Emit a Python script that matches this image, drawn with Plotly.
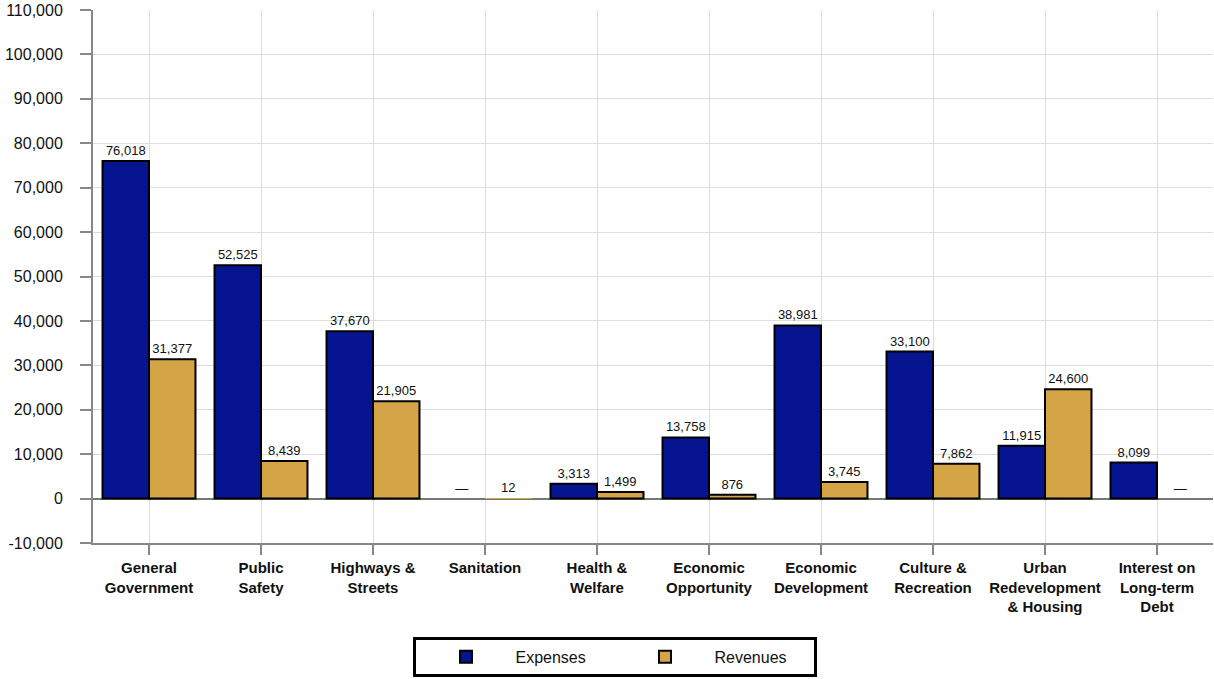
import plotly.graph_objects as go

categories = ["General<br>Government", "Public<br>Safety", "Highways &<br>Streets", "Sanitation",
              "Health &<br>Welfare", "Economic<br>Opportunity", "Economic<br>Development",
              "Culture &<br>Recreation", "Urban<br>Redevelopment<br>& Housing",
              "Interest on<br>Long-term<br>Debt"]
expenses = [76018, 52525, 37670, 0, 3313, 13758, 38981, 33100, 11915, 8099]
revenues = [31377, 8439, 21905, 12, 1499, 876, 3745, 7862, 24600, 0]

tick_vals = list(range(-10000, 110001, 10000))
tick_text = [f"{v:,}" for v in tick_vals]


def labels(vals):
    return ["\u2014" if v == 0 else f"{v:,}" for v in vals]


def outline(vals):
    # bars too small to be seen get no outline
    return [0 if v < 100 else 2 for v in vals]


font_family = "Liberation Sans, Arial, sans-serif"

fig = go.Figure()
fig.add_trace(go.Bar(
    name="Expenses", x=categories, y=expenses, text=labels(expenses),
    textposition="outside", textfont=dict(size=13, color="#111"),
    marker=dict(color="#06148F", line=dict(color="#000", width=outline(expenses))),
    cliponaxis=False,
))
fig.add_trace(go.Bar(
    name="Revenues", x=categories, y=revenues, text=labels(revenues),
    textposition="outside", textfont=dict(size=13, color="#111"),
    marker=dict(color="#D4A446", line=dict(color="#000", width=outline(revenues))),
    cliponaxis=False,
))

fig.update_layout(
    width=1214, height=679,
    margin=dict(l=93, r=1, t=10, b=136),
    paper_bgcolor="white", plot_bgcolor="white",
    font=dict(family=font_family, color="#111"),
    barmode="group", bargap=0.17, bargroupgap=0,
    showlegend=True,
    legend=dict(
        orientation="h", xref="container", yref="container",
        x=0.507, xanchor="center", y=0.003, yanchor="bottom",
        bordercolor="#000", borderwidth=3, bgcolor="white",
        font=dict(size=16, color="#111"),
        itemwidth=89, entrywidth=95, entrywidthmode="pixels",
        traceorder="normal",
    ),
)

fig.update_yaxes(
    range=[-10000, 110000], tickvals=tick_vals, ticktext=tick_text,
    showgrid=True, gridcolor="#DDDDDD", gridwidth=1,
    zeroline=True, zerolinecolor="#777777", zerolinewidth=2,
    showline=True, linecolor="#888888", linewidth=2,
    ticks="outside", ticklen=11, tickcolor="#888888", tickwidth=2,
    tickfont=dict(size=16, color="#111"), ticklabelstandoff=14,
)
fig.update_xaxes(
    showgrid=True, gridcolor="#DDDDDD", gridwidth=1,
    showline=True, linecolor="#888888", linewidth=2,
    ticks="outside", ticklen=10, tickcolor="#888888", tickwidth=2,
    tickfont=dict(size=15, color="#111", family=font_family, weight="bold"),
    tickangle=0,
)

fig.write_html("out.html")
